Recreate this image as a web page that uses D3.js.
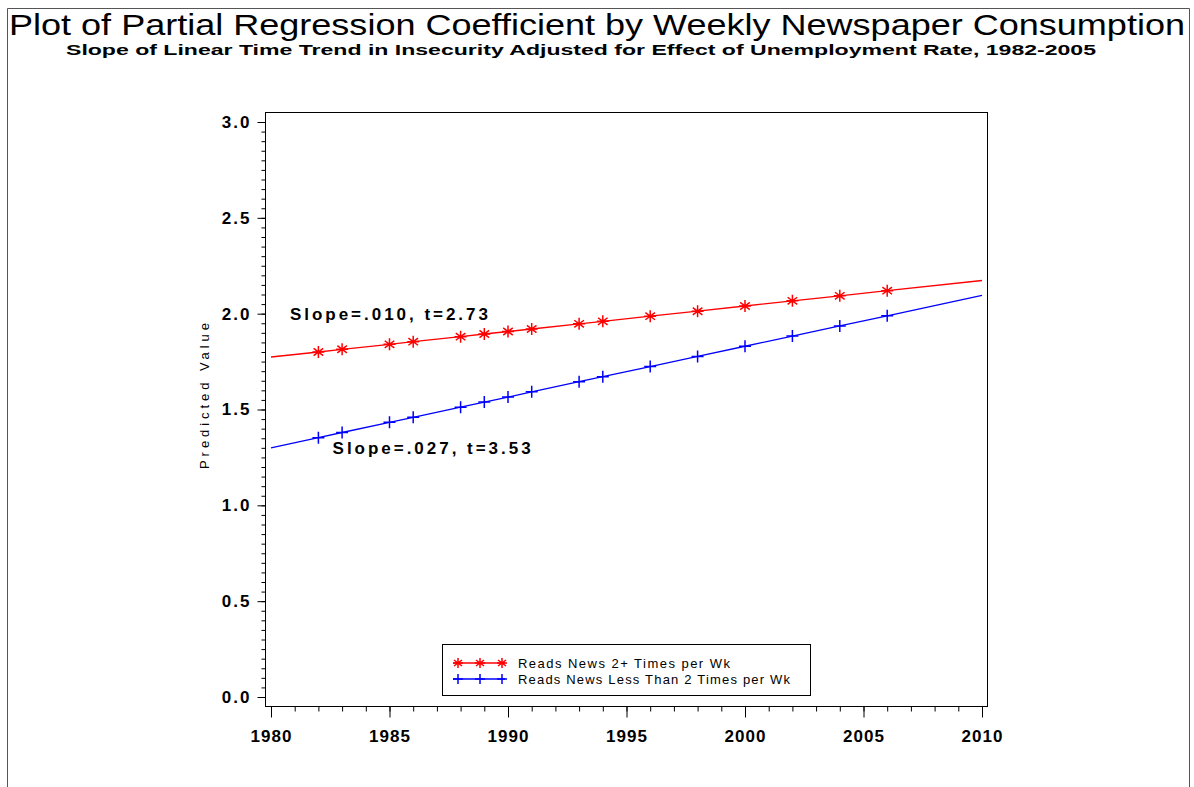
<!DOCTYPE html>
<html>
<head>
<meta charset="utf-8">
<script src="https://cdn.jsdelivr.net/npm/d3@7"></script>
<style>
  body { margin: 0; background: #fff; }
  text { font-family: "Liberation Sans", Arial, sans-serif; }
</style>
</head>
<body>
<div id="chart-container"></div>
<script>
// values
var years = [1980, 1982, 1983, 1985, 1986, 1988, 1989, 1990, 1991, 1993, 1994, 1996, 1998, 2000, 2002, 2004, 2006, 2010];
var readsOften = [1.774, 1.800, 1.814, 1.840, 1.854, 1.880, 1.894, 1.907, 1.920, 1.947, 1.960, 1.987, 2.013, 2.040, 2.067, 2.093, 2.120, 2.173];
var readsRarely = [1.300, 1.353, 1.380, 1.433, 1.459, 1.512, 1.539, 1.565, 1.592, 1.645, 1.671, 1.724, 1.777, 1.830, 1.883, 1.936, 1.989, 2.095];
// years at which SAS drew a plot symbol (the end points are line only)
var markerYears = [1982, 1983, 1985, 1986, 1988, 1989, 1990, 1991, 1993, 1994, 1996, 1998, 2000, 2002, 2004, 2006];

var seriesNames = ["Reads News 2+  Times per Wk", "Reads News Less Than 2 Times per Wk"];
var seriesColors = ["#ff0000", "#0000ff"];
var annotations = ["Slope=.010, t=2.73", "Slope=.027, t=3.53"];
var annotationPos = [{ year: 1980.8, value: 2.0 }, { year: 1982.6, value: 1.3 }];

var xTicks = [1980, 1985, 1990, 1995, 2000, 2005, 2010];
var yTicks = [0.0, 0.5, 1.0, 1.5, 2.0, 2.5, 3.0];

var title = "Plot of Partial Regression Coefficient by Weekly Newspaper Consumption";
var subtitle = "Slope of Linear Time Trend in Insecurity Adjusted for Effect of Unemployment Rate, 1982-2005";
var yLabel = "Predicted Value";

var W = 1194, H = 787;
var frame = { left: 265, right: 987, top: 112, bottom: 706 };

var x = d3.scaleLinear().domain([1980, 2010]).range([271, 982]);
var y = d3.scaleLinear().domain([0, 3]).range([697, 122]);

var svg = d3.select("#chart-container")
    .append("svg")
    .attr("width", W)
    .attr("height", H);

// outer page border
svg.append("path")
    .attr("d", "M7.5," + H + "V8.5H1189.5V" + H)
    .attr("fill", "none")
    .attr("stroke", "#555")
    .attr("stroke-width", 1);

// titles
svg.append("text")
    .attr("x", 9).attr("y", 35)
    .attr("font-size", 30)
    .attr("textLength", 1176)
    .attr("lengthAdjust", "spacingAndGlyphs")
    .text(title);

svg.append("text")
    .attr("x", 66).attr("y", 55)
    .attr("font-size", 14)
    .attr("font-weight", "bold")
    .attr("textLength", 1030)
    .attr("lengthAdjust", "spacingAndGlyphs")
    .text(subtitle);

// plot frame
svg.append("rect")
    .attr("x", frame.left + 0.5)
    .attr("y", frame.top + 0.5)
    .attr("width", frame.right - frame.left)
    .attr("height", frame.bottom - frame.top)
    .attr("fill", "none")
    .attr("stroke", "#000")
    .attr("stroke-width", 1);

// y axis: major every 0.5, minor every 0.05
var yMinor = d3.range(0, 3.001, 0.05);
var yAxisMinor = d3.axisLeft(y).tickValues(yMinor).tickSize(4).tickFormat("");
var yAxis = d3.axisLeft(y).tickValues(yTicks).tickSize(8).tickPadding(6).tickFormat(d3.format(".1f"));

var gy = svg.append("g").attr("transform", "translate(" + (frame.left + 0.5) + ",0)");
gy.call(yAxisMinor);
gy.select(".domain").remove();
var gy2 = svg.append("g").attr("transform", "translate(" + (frame.left + 0.5) + ",0)");
gy2.call(yAxis);
gy2.select(".domain").remove();
gy2.selectAll("text")
    .attr("font-family", "Liberation Sans, Arial, sans-serif")
    .attr("font-size", 17)
    .attr("font-weight", "bold")
    .attr("letter-spacing", "2px")
    .attr("fill", "#000");

// x axis: major every 5 years, minor every year
var xMinor = d3.range(1980, 2011, 1);
var xAxisMinor = d3.axisBottom(x).tickValues(xMinor).tickSize(5).tickFormat("");
var xAxis = d3.axisBottom(x).tickValues(xTicks).tickSize(11).tickPadding(12).tickFormat(d3.format("d"));

var gx = svg.append("g").attr("transform", "translate(0," + (frame.bottom + 0.5) + ")");
gx.call(xAxisMinor);
gx.select(".domain").remove();
var gx2 = svg.append("g").attr("transform", "translate(0," + (frame.bottom + 0.5) + ")");
gx2.call(xAxis);
gx2.select(".domain").remove();
gx2.selectAll("text")
    .attr("font-family", "Liberation Sans, Arial, sans-serif")
    .attr("font-size", 17)
    .attr("font-weight", "bold")
    .attr("letter-spacing", "1px")
    .attr("fill", "#000");

// y axis label
svg.append("text")
    .attr("transform", "translate(209,396) rotate(-90)")
    .attr("text-anchor", "middle")
    .attr("font-size", 13)
    .attr("textLength", 146)
    .attr("lengthAdjust", "spacing")
    .text(yLabel);

// lines
var seriesValues = [readsOften, readsRarely];
var line = d3.line()
    .x(function (d, i) { return x(years[i]); })
    .y(function (d) { return y(d); });

var plot = svg.append("g");

seriesValues.forEach(function (vals, s) {
    plot.append("path")
        .datum(vals)
        .attr("d", line)
        .attr("fill", "none")
        .attr("stroke", seriesColors[s])
        .attr("stroke-width", 1.3);
});

function starPath(cx, cy, r) {
    var d = "M" + cx + "," + (cy - r) + "V" + (cy + r);
    d += "M" + (cx - r * 0.8) + "," + (cy - r * 0.6) + "L" + (cx + r * 0.8) + "," + (cy + r * 0.6);
    d += "M" + (cx - r * 0.8) + "," + (cy + r * 0.6) + "L" + (cx + r * 0.8) + "," + (cy - r * 0.6);
    d += "M" + (cx - r) + "," + cy + "H" + (cx + r);
    return d;
}

function plusPath(cx, cy, r) {
    return "M" + cx + "," + (cy - r) + "V" + (cy + r) + "M" + (cx - r) + "," + cy + "H" + (cx + r);
}

var symbolFns = [starPath, plusPath];

seriesValues.forEach(function (vals, s) {
    var pts = years.map(function (yr, i) { return { year: yr, value: vals[i] }; })
        .filter(function (p) { return markerYears.indexOf(p.year) >= 0; });
    plot.selectAll(".sym" + s)
        .data(pts)
        .enter().append("path")
        .attr("class", "sym" + s)
        .attr("d", function (p) { return symbolFns[s](x(p.year), y(p.value), 6); })
        .attr("fill", "none")
        .attr("stroke", seriesColors[s])
        .attr("stroke-width", 1.5);
});

// slope annotations
annotations.forEach(function (txt, i) {
    svg.append("text")
        .attr("x", x(annotationPos[i].year))
        .attr("y", y(annotationPos[i].value) + 6)
        .attr("font-size", 17)
        .attr("font-weight", "bold")
        .attr("textLength", 198)
        .attr("lengthAdjust", "spacing")
        .text(txt);
});

// legend
var legend = svg.append("g");
legend.append("rect")
    .attr("x", 442.5).attr("y", 644.5)
    .attr("width", 368).attr("height", 51)
    .attr("fill", "#fff")
    .attr("stroke", "#000");

var legendTextLen = [212, 272];
seriesNames.forEach(function (name, s) {
    var ly = 663 + s * 16;
    legend.append("line")
        .attr("x1", 453).attr("x2", 505)
        .attr("y1", ly).attr("y2", ly)
        .attr("stroke", seriesColors[s])
        .attr("stroke-width", 1.3);
    [458, 480, 502].forEach(function (lx) {
        legend.append("path")
            .attr("d", symbolFns[s](lx, ly, 5))
            .attr("fill", "none")
            .attr("stroke", seriesColors[s])
            .attr("stroke-width", 1.5);
    });
    legend.append("text")
        .attr("x", 518).attr("y", ly + 5)
        .attr("font-size", 13)
        .attr("textLength", legendTextLen[s])
        .attr("lengthAdjust", "spacing")
        .text(name);
});
</script>
</body>
</html>
